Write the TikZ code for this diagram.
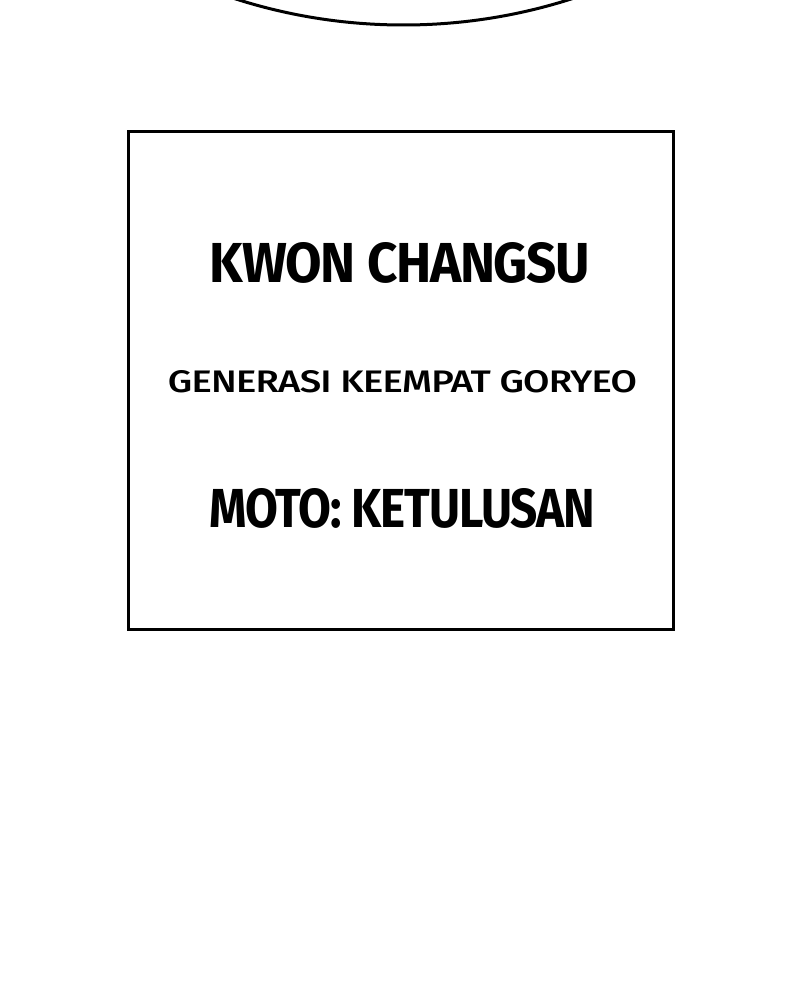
\documentclass[tikz,border=0pt]{standalone}
\usepackage{fontspec}
\setmainfont{Fira Sans}
\newfontfamily\medfont[LetterSpace=-2]{Fira Sans Medium}
\newfontfamily\boldfont[LetterSpace=-2.5]{Fira Sans Bold}
\usepackage{graphicx}
\begin{document}
\begin{tikzpicture}[x=1pt,y=-1pt,
  frame/.style={draw=black,line width=3pt},
  bigtxt/.style={anchor=base,inner sep=0pt,font=\boldfont},
  smalltxt/.style={anchor=base,inner sep=0pt,font=\medfont}]
\useasboundingbox (0,0) rectangle (800,1000);
\begin{scope}
\clip (0,0) rectangle (800,1000);
\draw[line width=3pt] (403.5,-525) circle[radius=550];
\end{scope}
\node[frame,minimum width=545pt,minimum height=498pt,inner sep=0pt] (box) at (400.5,380.5) {};
\node[bigtxt] (name) at (400,282) {\resizebox{380pt}{40pt}{KWON CHANGSU}};
\node[smalltxt] (gen) at (402.5,392) {\resizebox{469pt}{22pt}{GENERASI KEEMPAT GORYEO}};
\node[bigtxt] (moto) at (402.5,527) {\resizebox{385pt}{39pt}{MOTO: KETULUSAN}};
\end{tikzpicture}
\end{document}
